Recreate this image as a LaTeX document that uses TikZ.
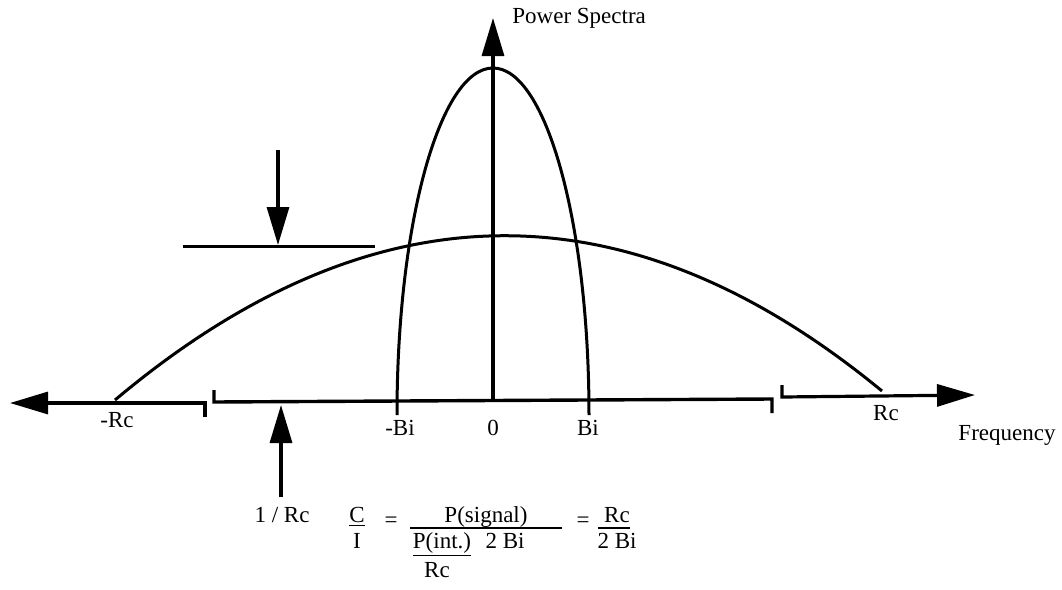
\documentclass[tikz,border=0pt]{standalone}
\usepackage{fontspec}
\setmainfont{Liberation Serif}
\usetikzlibrary{arrows.meta}

\begin{document}
\begin{tikzpicture}[
    x=0.5pt, y=-0.5pt,
    curve/.style = {line width=1.5pt},
    axis/.style = {line width=1.7pt},
    arrow/.style = {-{Triangle[length=19pt, width=11pt]}, line width=1.6pt},
    lbl/.style = {font=\fontsize{11.5}{13}\selectfont, inner sep=0pt, anchor=base}
]
\useasboundingbox (0,0) rectangle (1062,590);

% axes
\coordinate (origin) at (493,402);
\coordinate (ytip) at (493,18);
\draw[arrow] (origin) -- (ytip);
\draw[arrow] (205,417) -- (205,403) -- (10,403);
\draw[axis] (214,390) -- (214,402) -- (772,399) -- (772,413);
\draw[arrow] (782,385) -- (782,397) -- (975,395);

% spectra
\draw[curve] (397,415) arc[start angle=180, end angle=360, x radius=96, y radius=347];
\draw[curve] (115,400) .. controls (372,184) and (627,181) .. (882,391);

% level markers
\draw[curve] (183,246) -- (375,246);
\draw[arrow] (278,150) -- (278,245);
\draw[arrow] (281,497) -- (281,405);

% axis labels
\node[lbl, anchor=base west] (power) at (512,23) {Power Spectra};
\node[lbl] (freq) at (1007,440) {Frequency};
\node[lbl] (mrc) at (117,427) {-Rc};
\node[lbl] (mbi) at (400,435) {-Bi};
\node[lbl] (zero) at (493,435) {0};
\node[lbl] (pbi) at (588,435) {Bi};
\node[lbl] (prc) at (886,420) {Rc};
\node[lbl] (invrc) at (282,522) {1 / Rc};

% C / I relation
\node[lbl] (cnum) at (357,522) {\underline{C}};
\node[lbl] (cden) at (357,548) {I};
\node[lbl] (eq1) at (391,527) {=};
\node[lbl] (psig) at (486,522) {P(signal)};
\draw[line width=0.8pt] (410,528) -- (562,528);
\node[lbl] (pint) at (442,548) {\underline{P(int.)}};
\node[lbl] (twobi) at (505,548) {2 Bi};
\node[lbl] (rcden) at (437,577) {Rc};
\node[lbl] (eq2) at (583,527) {=};
\node[lbl] (rcnum) at (617,522) {Rc};
\draw[line width=0.8pt] (598,528) -- (630,528);
\node[lbl] (twobi2) at (617,548) {2 Bi};

\end{tikzpicture}
\end{document}
